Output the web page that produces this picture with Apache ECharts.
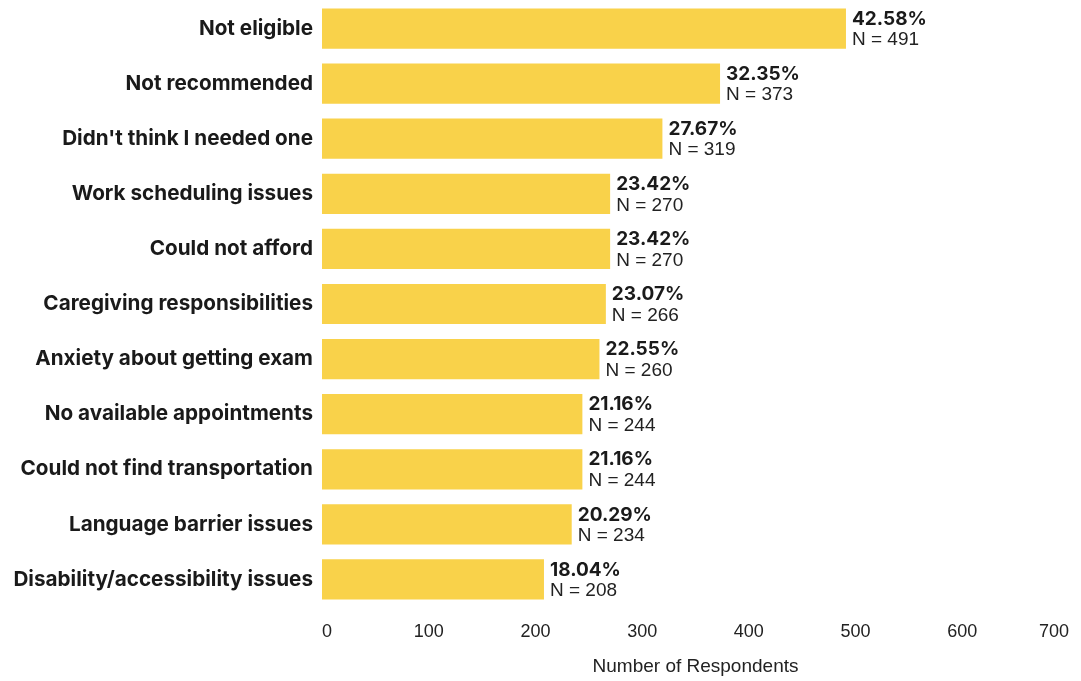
<!DOCTYPE html>
<html><head><meta charset="utf-8">
<script src="https://cdn.jsdelivr.net/npm/echarts@6/dist/echarts.min.js"></script>
<style>html,body{margin:0;padding:0;background:#fff}#c{width:1081px;height:681px}</style>
</head><body><div id="c"></div>
<script>
const categories = ["Not eligible","Not recommended","Didn't think I needed one","Work scheduling issues","Could not afford","Caregiving responsibilities","Anxiety about getting exam","No available appointments","Could not find transportation","Language barrier issues","Disability/accessibility issues"];
const counts = [491,373,319,270,270,266,260,244,244,234,208];
const percents = ["42.58%","32.35%","27.67%","23.42%","23.42%","23.07%","22.55%","21.16%","21.16%","20.29%","18.04%"];
const tickMax = 700;
const tickStep = 100;
const axisTitle = "Number of Respondents";

const chart = echarts.init(document.getElementById('c'));
chart.setOption({
  animation:false,
  grid:{left:322,right:12,top:1,bottom:71,containLabel:false},
  xAxis:{type:'value',min:0,max:tickMax,interval:tickStep,
    splitLine:{show:false},axisLine:{show:false},axisTick:{show:false},
    axisLabel:{fontFamily:'Liberation Sans',fontSize:18,color:'#222',margin:16,alignMinLabel:'left',alignMaxLabel:'right'},
    name:axisTitle,nameLocation:'middle',nameGap:50,
    nameTextStyle:{fontFamily:'Liberation Sans',fontSize:19,color:'#222'}},
  yAxis:{type:'category',inverse:true,data:categories,
    axisLine:{show:false},axisTick:{show:false},
    axisLabel:{fontFamily:'Inter',fontWeight:'bold',fontSize:20.7,color:'#1a1a1a',margin:9,padding:[7,0,0,0]}},
  series:[{type:'bar',data:counts,barWidth:'73%',
    itemStyle:{color:'#F9D24A'},
    label:{show:true,position:'right',distance:6,padding:[2,0,0,0],
      formatter:p=>'{a|'+percents[p.dataIndex]+'}\n{b|N = '+p.value+'}',
      rich:{a:{fontFamily:'Inter',fontWeight:'bold',fontSize:19,color:'#1a1a1a',lineHeight:21},
            b:{fontFamily:'Liberation Sans',fontSize:19,color:'#222',lineHeight:21}}}}]
});
</script></body></html>
